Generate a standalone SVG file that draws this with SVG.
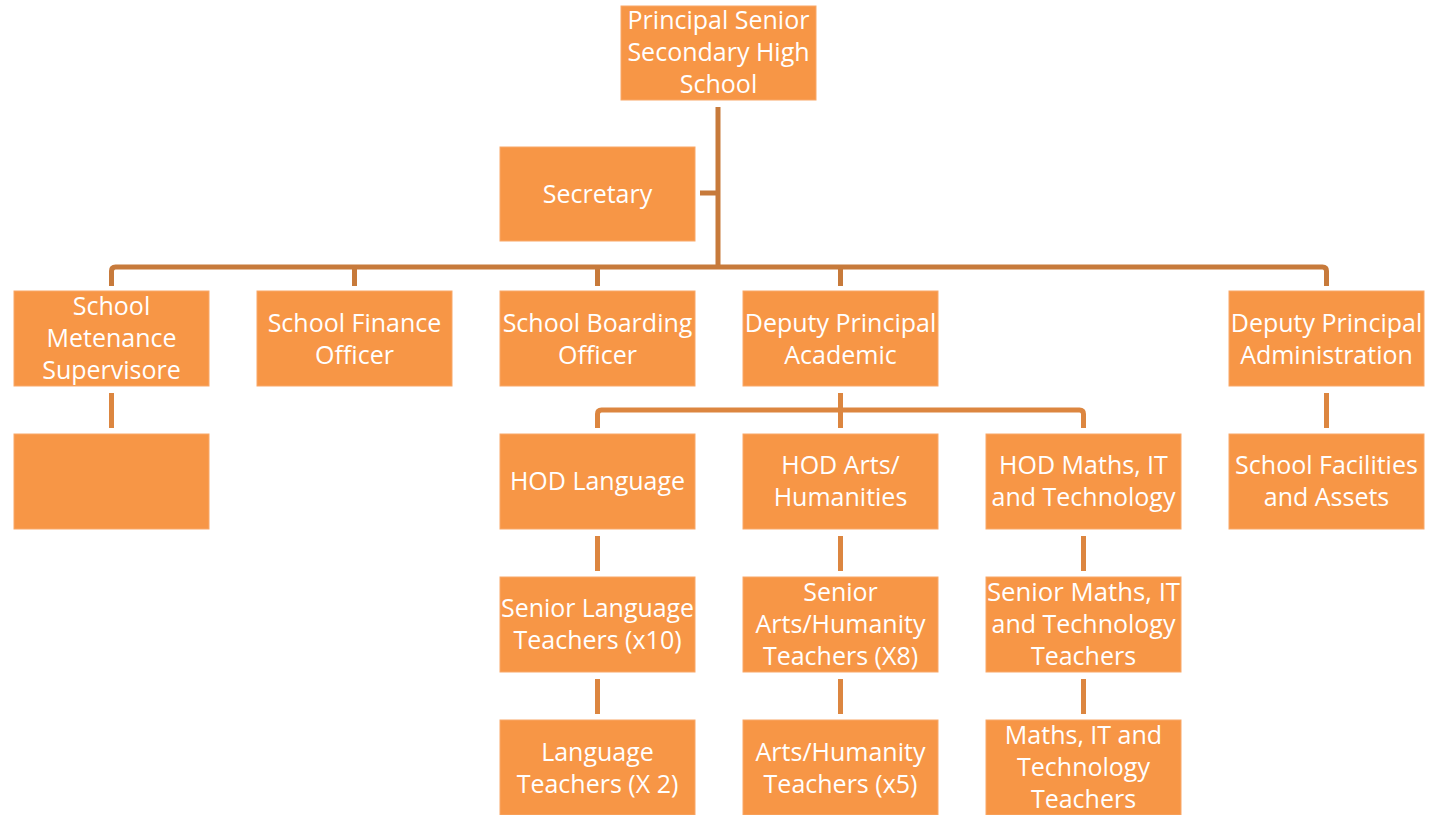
<svg xmlns="http://www.w3.org/2000/svg" width="1429" height="815" viewBox="0 0 1429 815">
<style>
.box{fill:#F79646;stroke:#F9A868;stroke-width:1}
.t{font-family:"Open Sans","Liberation Sans",sans-serif;font-size:25px;fill:#FFFFFF;text-anchor:middle}
.n{font-size:24px}
.c{fill:none;stroke:#C77A3B;stroke-width:5}
.c2{fill:none;stroke:#DC8640;stroke-width:5}
</style>
<rect width="1429" height="815" fill="#FFFFFF"/>
<g id="connectors">
<path class="c" d="M718,107 V267 M700,193 H718"/>
<path class="c" d="M111.5,286 V271 Q111.5,267 115.5,267 H1322.5 Q1326.5,267 1326.5,271 V286 M354.5,267 V286 M597.5,267 V286 M840.5,267 V286"/>
<path class="c2" d="M111.5,393 V428 M1326.5,393 V428 M840.5,393 V428"/>
<path class="c2" d="M597.5,428 V414 Q597.5,410 601.5,410 H1079.5 Q1083.5,410 1083.5,414 V428"/>
<path class="c2" d="M597.5,536 V571 M840.5,536 V571 M1083.5,536 V571 M597.5,679 V714 M840.5,679 V714 M1083.5,679 V714"/>
</g>
<g id="principal"><rect class="box" x="621" y="6" width="195" height="94"/>
<text class="t" x="718.5" y="29">Principal Senior</text><text class="t" x="718.5" y="61">Secondary High</text><text class="t" x="718.5" y="93">School</text></g>
<g id="secretary"><rect class="box" x="500" y="147" width="195" height="94"/>
<text class="t" x="597.5" y="203">Secretary</text></g>
<g id="maintenance"><rect class="box" x="14" y="291" width="195" height="95"/>
<text class="t" x="111.5" y="315">School</text><text class="t" x="111.5" y="347">Metenance</text><text class="t" x="111.5" y="379">Supervisore</text></g>
<g id="finance"><rect class="box" x="257" y="291" width="195" height="95"/>
<text class="t" x="354.5" y="332">School Finance</text><text class="t" x="354.5" y="364">Officer</text></g>
<g id="boarding"><rect class="box" x="500" y="291" width="195" height="95"/>
<text class="t" x="597.5" y="332">School Boarding</text><text class="t" x="597.5" y="364">Officer</text></g>
<g id="dp-academic"><rect class="box" x="743" y="291" width="195" height="95"/>
<text class="t" x="840.5" y="332">Deputy Principal</text><text class="t" x="840.5" y="364">Academic</text></g>
<g id="dp-admin"><rect class="box" x="1229" y="291" width="195" height="95"/>
<text class="t" x="1326.5" y="332">Deputy Principal</text><text class="t" x="1326.5" y="364">Administration</text></g>
<g id="maintenance-child"><rect class="box" x="14" y="434" width="195" height="95"/></g>
<g id="hod-language"><rect class="box" x="500" y="434" width="195" height="95"/>
<text class="t" x="597.5" y="490">HOD Language</text></g>
<g id="hod-arts"><rect class="box" x="743" y="434" width="195" height="95"/>
<text class="t" x="840.5" y="474">HOD Arts/</text><text class="t" x="840.5" y="506">Humanities</text></g>
<g id="hod-maths"><rect class="box" x="986" y="434" width="195" height="95"/>
<text class="t" x="1083.5" y="474">HOD Maths, IT</text><text class="t" x="1083.5" y="506">and Technology</text></g>
<g id="facilities"><rect class="box" x="1229" y="434" width="195" height="95"/>
<text class="t" x="1326.5" y="474">School Facilities</text><text class="t" x="1326.5" y="506">and Assets</text></g>
<g id="senior-language"><rect class="box" x="500" y="577" width="195" height="95"/>
<text class="t" x="597.5" y="617" textLength="193" lengthAdjust="spacingAndGlyphs">Senior Language</text><text class="t" x="597.5" y="649">Teachers (x10)</text></g>
<g id="senior-arts"><rect class="box" x="743" y="577" width="195" height="95"/>
<text class="t" x="840.5" y="601">Senior</text><text class="t" x="840.5" y="633">Arts/Humanity</text><text class="t" x="840.5" y="665">Teachers (X8)</text></g>
<g id="senior-maths"><rect class="box" x="986" y="577" width="195" height="95"/>
<text class="t" x="1083.5" y="601" textLength="193" lengthAdjust="spacingAndGlyphs">Senior Maths, IT</text><text class="t" x="1083.5" y="633">and Technology</text><text class="t" x="1083.5" y="665">Teachers</text></g>
<g id="language-teachers"><rect class="box" x="500" y="720" width="195" height="95"/>
<text class="t" x="597.5" y="761">Language</text><text class="t" x="597.5" y="793">Teachers (X 2)</text></g>
<g id="arts-teachers"><rect class="box" x="743" y="720" width="195" height="95"/>
<text class="t" x="840.5" y="761">Arts/Humanity</text><text class="t" x="840.5" y="793">Teachers (x5)</text></g>
<g id="maths-teachers"><rect class="box" x="986" y="720" width="195" height="95"/>
<text class="t" x="1083.5" y="744">Maths, IT and</text><text class="t" x="1083.5" y="776">Technology</text><text class="t" x="1083.5" y="808">Teachers</text></g>
</svg>
